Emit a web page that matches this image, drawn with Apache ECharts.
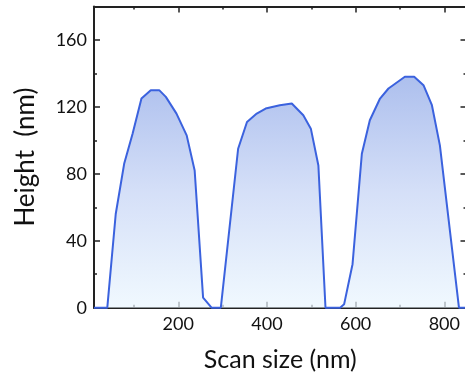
<!DOCTYPE html>
<html>
<head>
<meta charset="utf-8">
<script src="https://cdn.jsdelivr.net/npm/echarts@6/dist/echarts.min.js"></script>
<style>
html,body{margin:0;padding:0;background:#fff;}
#c{width:465px;height:376px;}
</style>
</head>
<body>
<div id="c"></div>
<script>
// Data
const scanSize = [10, 40, 59, 78, 97, 117, 138, 157, 172, 196, 219, 237, 256, 275, 296, 335, 355, 377, 397, 429, 456, 482, 499, 516, 532, 565, 574, 593, 614, 632, 655, 674, 711, 732, 753, 772, 790, 833, 850];
const height   = [0, 0, 56, 86, 104, 125, 130, 130, 126, 116, 103, 82, 6, 0, 0, 95, 111, 116, 119, 121, 122, 115, 107, 85, 0, 0, 2, 26, 92, 112, 125, 131, 138, 138, 133, 121, 97, 0, 0];

const xMajorTicks = [200, 400, 600, 800];
const xMinorTicks = [100, 300, 500, 700];
const yMajorTicks = [0, 40, 80, 120, 160];
const yMinorTicks = [20, 60, 100, 140];

const X_MIN = 10, X_MAX = 850, Y_MIN = 0, Y_MAX = 180;
const FONT = 'Lato';
const AXIS_COLOR = '#222';

const chart = echarts.init(document.getElementById('c'), null, {renderer: 'canvas'});

function xAxisDef(pos, ticks, len, showLine, showLabel) {
  return {
    type: 'value', position: pos, min: X_MIN, max: X_MAX,
    axisLine: {show: showLine, onZero: false, lineStyle: {color: AXIS_COLOR, width: 2}},
    axisTick: {show: true, inside: true, length: len, customValues: ticks, lineStyle: {color: AXIS_COLOR, width: 1.5}},
    axisLabel: {show: showLabel, customValues: xMajorTicks, fontFamily: FONT, fontSize: 18, color: '#111', margin: 7},
    splitLine: {show: false},
    name: (pos === 'bottom' && showLine) ? 'Scan size (nm)' : '',
    nameLocation: 'middle', nameGap: 40,
    nameTextStyle: {fontFamily: FONT, fontSize: 25, color: '#111'}
  };
}
function yAxisDef(pos, ticks, len, showLine, showLabel) {
  return {
    type: 'value', position: pos, min: Y_MIN, max: Y_MAX,
    axisLine: {show: showLine, onZero: false, lineStyle: {color: AXIS_COLOR, width: 2}},
    axisTick: {show: true, inside: true, length: len, customValues: ticks, lineStyle: {color: AXIS_COLOR, width: 1.5}},
    axisLabel: {show: showLabel, customValues: yMajorTicks, fontFamily: FONT, fontSize: 18, color: '#111', margin: 7},
    splitLine: {show: false},
    name: (pos === 'left' && showLine) ? 'Height  (nm)' : '',
    nameLocation: 'middle', nameGap: 55,
    nameTextStyle: {fontFamily: FONT, fontSize: 26, color: '#111'}
  };
}

chart.setOption({
  animation: false,
  backgroundColor: '#fff',
  grid: {left: 94, top: 6.5, width: 372.5, height: 301.2, containLabel: false, outerBoundsMode: 'none'},
  xAxis: [
    xAxisDef('bottom', xMajorTicks, 6, true, true),
    xAxisDef('bottom', xMinorTicks, 3, false, false),
    xAxisDef('top', xMajorTicks, 6, true, false),
    xAxisDef('top', xMinorTicks, 3, false, false)
  ],
  yAxis: [
    yAxisDef('left', yMajorTicks, 6, true, true),
    yAxisDef('left', yMinorTicks, 3, false, false),
    yAxisDef('right', yMajorTicks, 6, true, false),
    yAxisDef('right', yMinorTicks, 3, false, false)
  ],
  series: [{
    type: 'line',
    xAxisIndex: 0, yAxisIndex: 0,
    data: scanSize.map((x, i) => [x, height[i]]),
    symbol: 'none',
    clip: false,
    lineStyle: {color: '#3b62de', width: 2},
    areaStyle: {
      color: new echarts.graphic.LinearGradient(0, 0, 0, 1, [
        {offset: 0, color: '#8aa4e6'},
        {offset: 0.5, color: '#c3d2f5'},
        {offset: 1, color: '#eaf6fe'}
      ])
    }
  }]
});
</script>
</body>
</html>
